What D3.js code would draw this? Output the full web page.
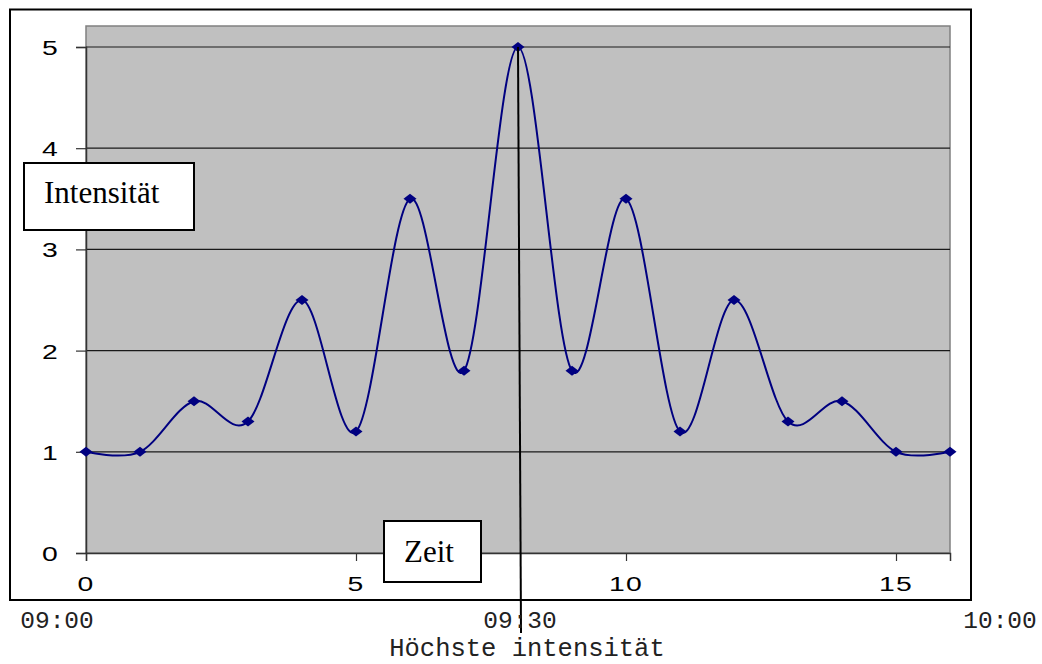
<!DOCTYPE html>
<html>
<head>
<meta charset="utf-8">
<script src="https://cdn.jsdelivr.net/npm/d3@7"></script>
<style>
  html, body { margin: 0; padding: 0; background: #fff; }
  svg { display: block; }
</style>
</head>
<body>
<svg id="chart" width="1042" height="664"></svg>
<script>
// Intensity over time: one sample per step, smooth line with diamond markers
const steps = [0, 1, 2, 3, 4, 5, 6, 7, 8, 9, 10, 11, 12, 13, 14, 15, 16];
const intensity = [1, 1, 1.5, 1.3, 2.5, 1.2, 3.5, 1.8, 5, 1.8, 3.5, 1.2, 2.5, 1.3, 1.5, 1, 1];
const yTicks = [0, 1, 2, 3, 4, 5];
const xTicks = [0, 5, 10, 15];
const timeLabels = ["09:00", "09:30", "10:00"];
const peakLabel = "Höchste intensität";

const svg = d3.select("#chart");

const x = d3.scaleLinear().domain([0, 16]).range([86, 950]);
const y = d3.scaleLinear().domain([0, 5]).range([553, 47]);
const plotTop = 26;

// outer chart frame
svg.append("rect")
  .attr("x", 10).attr("y", 9.5)
  .attr("width", 961).attr("height", 590.5)
  .attr("fill", "#fff").attr("stroke", "#000").attr("stroke-width", 2);

// plot area
svg.append("rect")
  .attr("x", x(0)).attr("y", plotTop)
  .attr("width", x(16) - x(0)).attr("height", y(0) - plotTop)
  .attr("fill", "#c0c0c0").attr("stroke", "#808080").attr("stroke-width", 1.5);

// horizontal gridlines
svg.append("g")
  .selectAll("line")
  .data(yTicks.filter(d => d > 0))
  .join("line")
  .attr("x1", x(0)).attr("x2", x(16))
  .attr("y1", d => y(d)).attr("y2", d => y(d))
  .attr("stroke", "#1a1a1a").attr("stroke-width", 1.2);

// y axis
const yAxis = svg.append("g")
  .attr("transform", `translate(${x(0)},0)`)
  .call(d3.axisLeft(y).tickValues(yTicks).tickSize(10).tickFormat(""));
yAxis.select(".domain").attr("stroke", "#333").attr("stroke-width", 1.5);
yAxis.selectAll(".tick line").attr("stroke", "#333").attr("stroke-width", 1.2);

svg.append("g")
  .selectAll("text")
  .data(yTicks)
  .join("text")
  .attr("transform", d => `translate(50,${y(d) + 8}) scale(1.35,1)`)
  .attr("text-anchor", "middle")
  .attr("font-family", "Liberation Sans, Arial, sans-serif")
  .attr("font-size", 21)
  .attr("fill", "#000")
  .text(d => d);

// x axis
const xAxis = svg.append("g")
  .attr("transform", `translate(0,${y(0)})`)
  .call(d3.axisBottom(x).tickValues(xTicks).tickSize(8).tickFormat(""));
xAxis.select(".domain").attr("stroke", "#333").attr("stroke-width", 1.5);
xAxis.selectAll(".tick line").attr("stroke", "#333").attr("stroke-width", 1.2);

svg.append("g")
  .selectAll("text")
  .data(xTicks)
  .join("text")
  .attr("transform", d => `translate(${x(d)},591) scale(1.35,1)`)
  .attr("text-anchor", "middle")
  .attr("font-family", "Liberation Sans, Arial, sans-serif")
  .attr("font-size", 21)
  .attr("letter-spacing", 1)
  .attr("fill", "#000")
  .text(d => d);

// smoothed intensity line
const pts = steps.map((s, i) => [s, intensity[i]]);
const line = d3.line()
  .x(d => x(d[0])).y(d => y(d[1]))
  .curve(d3.curveCardinal.tension(0));
svg.append("path")
  .datum(pts)
  .attr("d", line)
  .attr("fill", "none")
  .attr("stroke", "#000080")
  .attr("stroke-width", 2);

// diamond markers
svg.append("g")
  .selectAll("path")
  .data(pts)
  .join("path")
  .attr("transform", d => `translate(${x(d[0])},${y(d[1])})`)
  .attr("d", "M-6.5,0L0,-5L6.5,0L0,5Z")
  .attr("fill", "#000080");

// pointer from the peak down to the time label
const peakIdx = intensity.indexOf(d3.max(intensity));
svg.append("line")
  .attr("x1", x(steps[peakIdx])).attr("y1", y(intensity[peakIdx]))
  .attr("x2", x(steps[peakIdx]) + 3).attr("y2", 633)
  .attr("stroke", "#000").attr("stroke-width", 2);

// labelled boxes
function labelBox(bx, by, bw, bh, tx, ty, txt) {
  svg.append("rect")
    .attr("x", bx).attr("y", by).attr("width", bw).attr("height", bh)
    .attr("fill", "#fff").attr("stroke", "#000").attr("stroke-width", 2);
  svg.append("text")
    .attr("x", tx).attr("y", ty)
    .attr("font-family", "Liberation Serif, Times New Roman, serif")
    .attr("font-size", 31)
    .attr("fill", "#000")
    .text(txt);
}
labelBox(24, 163, 170, 67, 44, 203, "Intensität");
labelBox(384, 521, 97, 61, 404, 562, "Zeit");

// clock times under the chart
const timeX = [57, 520, 1000];
svg.append("g")
  .selectAll("text")
  .data(timeLabels)
  .join("text")
  .attr("x", (d, i) => timeX[i]).attr("y", 628)
  .attr("text-anchor", "middle")
  .attr("font-family", "Liberation Mono, Courier New, monospace")
  .attr("font-size", 24.5)
  .attr("fill", "#222")
  .text(d => d);

svg.append("text")
  .attr("x", 527).attr("y", 656)
  .attr("text-anchor", "middle")
  .attr("font-family", "Liberation Mono, Courier New, monospace")
  .attr("font-size", 25.5)
  .attr("fill", "#222")
  .text(peakLabel);
</script>
</body>
</html>
